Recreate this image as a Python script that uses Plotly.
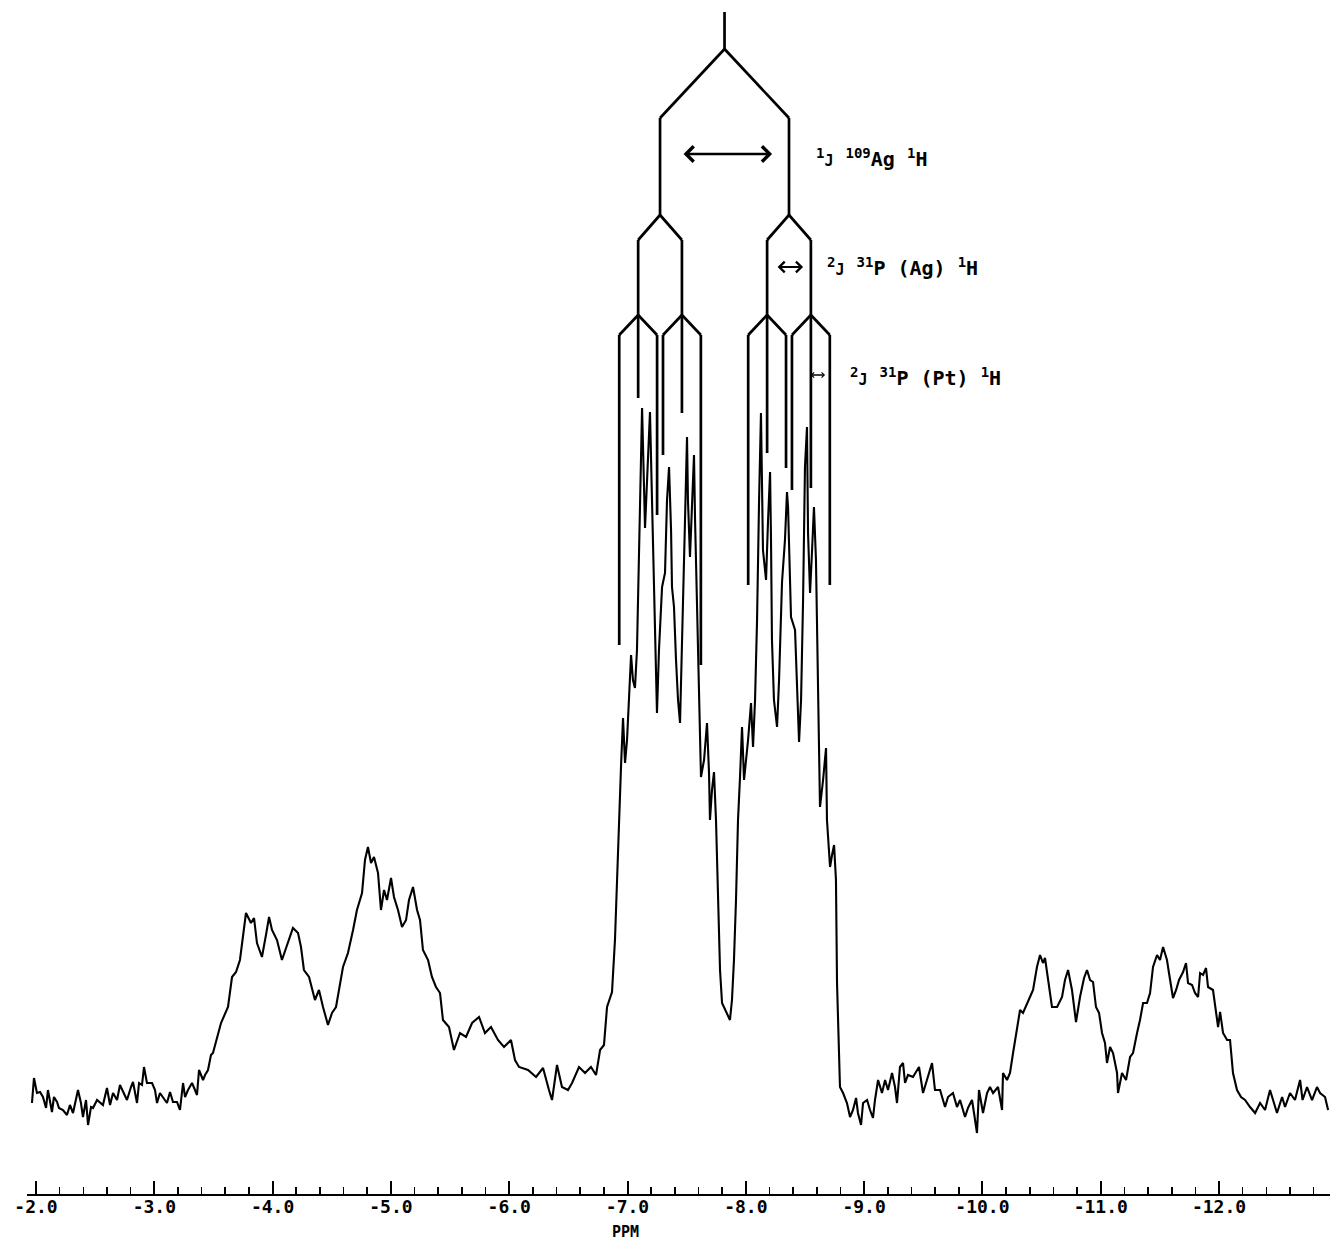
import plotly.graph_objects as go

# ---------------- data (ppm, intensity in arbitrary units) ----------------
spectrum_ppm = [
    -1.966, -1.983, -2.008, -2.034, -2.059, -2.085, -2.101, -2.118, -2.135, -2.152,
    -2.178, -2.194, -2.228, -2.262, -2.287, -2.313, -2.338, -2.355, -2.380, -2.397,
    -2.423, -2.440, -2.465, -2.482, -2.516, -2.541, -2.566, -2.600, -2.626, -2.651,
    -2.685, -2.710, -2.735, -2.769, -2.803, -2.820, -2.854, -2.871, -2.896, -2.913,
    -2.938, -2.981, -3.006, -3.023, -3.048, -3.074, -3.107, -3.133, -3.158, -3.192,
    -3.217, -3.243, -3.260, -3.285, -3.319, -3.344, -3.361, -3.378, -3.412, -3.429,
    -3.454, -3.479,
    -3.496, -3.564, -3.623, -3.657, -3.691, -3.724, -3.750, -3.775, -3.817, -3.843,
    -3.868, -3.910, -3.944, -3.970, -3.995, -4.037, -4.079, -4.113, -4.172, -4.215,
    -4.240, -4.265, -4.308, -4.358, -4.392, -4.426, -4.468, -4.502, -4.536, -4.595,
    -4.637, -4.680, -4.713, -4.756, -4.781, -4.806, -4.832, -4.857, -4.891, -4.916,
    -4.942, -4.967, -5.001, -5.026, -5.060, -5.094, -5.128, -5.153, -5.187, -5.221,
    -5.246, -5.271, -5.314, -5.347, -5.381, -5.415, -5.440, -5.491, -5.533, -5.584,
    -5.635, -5.686, -5.745, -5.795, -5.846, -5.905, -5.956, -6.015, -6.049, -6.083,
    -6.159, -6.227, -6.286, -6.336, -6.362, -6.404, -6.446, -6.497, -6.531, -6.590,
    -6.641, -6.691, -6.734,
    -6.768, -6.801, -6.827, -6.869, -6.894, -6.911, -6.928, -6.945, -6.962, -6.979,
    -6.996, -7.013, -7.030, -7.046, -7.063, -7.080, -7.106, -7.123, -7.148, -7.173,
    -7.190, -7.207, -7.224, -7.241, -7.249, -7.266, -7.283, -7.292, -7.317, -7.334,
    -7.351, -7.368, -7.376, -7.393, -7.410, -7.427, -7.444, -7.461, -7.486, -7.503,
    -7.511, -7.528, -7.545, -7.562, -7.571, -7.587, -7.604, -7.621, -7.647, -7.672,
    -7.689, -7.697, -7.714, -7.731, -7.748, -7.765, -7.782, -7.799, -7.824, -7.841,
    -7.866, -7.883, -7.900, -7.917, -7.934, -7.951, -7.968, -7.985, -8.002, -8.019,
    -8.044, -8.061, -8.078, -8.095, -8.112, -8.128, -8.145, -8.171, -8.188, -8.205,
    -8.213, -8.221, -8.238, -8.264, -8.281, -8.298, -8.306, -8.331, -8.348, -8.357,
    -8.374, -8.382, -8.416, -8.433, -8.450, -8.467, -8.484, -8.500, -8.517, -8.526,
    -8.543, -8.560, -8.576, -8.593, -8.610, -8.627, -8.653, -8.678, -8.686, -8.712,
    -8.729, -8.746, -8.762, -8.771, -8.796,
    -8.822, -8.855, -8.881, -8.906, -8.932, -8.948, -8.974, -8.991, -9.025, -9.050,
    -9.075, -9.092, -9.118, -9.151, -9.177, -9.202, -9.236, -9.261, -9.278, -9.303,
    -9.329, -9.346, -9.371, -9.413, -9.464, -9.498, -9.532, -9.574, -9.599, -9.642,
    -9.684, -9.709, -9.751, -9.785, -9.811, -9.853, -9.878, -9.912, -9.929, -9.954,
    -9.971, -10.005, -10.039, -10.064, -10.090, -10.132, -10.166, -10.174, -10.208, -10.233,
    -10.259, -10.292, -10.318, -10.343, -10.377, -10.402, -10.428, -10.461, -10.487, -10.512,
    -10.529, -10.554, -10.588, -10.631, -10.673, -10.698, -10.724, -10.757, -10.791, -10.825,
    -10.859, -10.884, -10.910, -10.935, -10.960, -10.986, -11.011, -11.036, -11.053, -11.079,
    -11.104, -11.138, -11.146, -11.180, -11.214, -11.248, -11.273, -11.307, -11.332, -11.358,
    -11.391, -11.417, -11.442, -11.476, -11.501, -11.527, -11.560, -11.577, -11.611, -11.637,
    -11.662, -11.696, -11.721, -11.738, -11.772, -11.797, -11.823, -11.840, -11.865, -11.890,
    -11.907, -11.949, -11.966, -11.992, -12.009, -12.034, -12.068, -12.093, -12.118, -12.152,
    -12.186, -12.220, -12.262, -12.305, -12.347, -12.389, -12.431, -12.457, -12.490, -12.533,
    -12.558, -12.600, -12.642, -12.685, -12.706, -12.744, -12.786, -12.828, -12.854, -12.896,
    -12.922,
]

spectrum_int = [
    91, 116, 101, 102, 97, 86, 104, 94, 82, 97,
    92, 86, 84, 79, 89, 81, 97, 104, 91, 77,
    94, 69, 87, 86, 94, 91, 89, 106, 89, 101,
    94, 109, 102, 94, 107, 112, 91, 111, 109, 127,
    111, 111, 104, 91, 101, 96, 91, 102, 92, 92,
    84, 111, 97, 104, 111, 104, 99, 124, 114, 119,
    124, 139,
    141, 171, 187, 217, 222, 234, 261, 281, 271, 276,
    251, 237, 259, 277, 264, 254, 234, 246, 266, 261,
    247, 224, 217, 194, 204, 187, 169, 181, 187, 227,
    241, 264, 284, 301, 334, 347, 331, 337, 321, 284,
    304, 294, 316, 297, 284, 267, 274, 294, 307, 284,
    274, 244, 234, 217, 207, 201, 174, 167, 144, 161,
    157, 171, 177, 161, 167, 154, 147, 154, 134, 127,
    124, 117, 126, 104, 94, 129, 107, 104, 111, 127,
    121, 127, 119,
    144, 149, 187, 202, 254, 314, 381, 427, 476, 431,
    454, 499, 539, 514, 506, 544, 674, 786, 666, 744,
    782, 694, 594, 504, 481, 544, 594, 607, 621, 694,
    727, 664, 607, 587, 534, 494, 471, 544, 674, 757,
    694, 637, 694, 739, 674, 594, 494, 417, 434, 471,
    421, 374, 404, 422, 374, 294, 224, 191, 184, 181,
    174, 194, 234, 294, 374, 417, 467, 414, 434, 454,
    491, 447, 494, 574, 694, 781, 644, 614, 674, 722,
    654, 554, 494, 467, 514, 574, 612, 654, 702, 687,
    614, 577, 564, 504, 452, 494, 594, 727, 767, 661,
    601, 644, 687, 634, 501, 387, 414, 446, 374, 327,
    339, 349, 314, 211, 107,
    101, 91, 77, 84, 96, 81, 69, 91, 94, 84,
    76, 94, 114, 101, 114, 104, 121, 107, 91, 127,
    131, 111, 119, 117, 127, 101, 114, 131, 104, 104,
    87, 97, 101, 87, 94, 77, 86, 94, 81, 61,
    104, 81, 101, 107, 101, 107, 84, 121, 114, 121,
    141, 167, 184, 181, 191, 197, 204, 227, 239, 231,
    236, 214, 187, 187, 197, 214, 224, 204, 172, 197,
    216, 224, 214, 212, 187, 181, 161, 151, 131, 147,
    141, 121, 101, 121, 114, 137, 141, 161, 174, 191,
    191, 201, 227, 239, 234, 247, 234, 221, 196, 204,
    214, 222, 231, 211, 209, 201, 197, 221, 219, 226,
    207, 204, 187, 167, 182, 161, 154, 154, 121, 104,
    97, 94, 87, 81, 91, 84, 104, 94, 81, 97,
    87, 101, 94, 114, 94, 107, 94, 107, 101, 97,
    84,
]

# ---------------- splitting tree (coupling diagram) ----------------
tree_center = -7.82          # ppm
J_AgH = 1.09                 # 1J 109Ag-1H (ppm on the chart)
J_PAg = 0.37                 # 2J 31P(Ag)-1H
J_PPt = 0.16                 # 2J 31P(Pt)-1H (triplet)
tree_levels = [1182, 1145, 1076, 979, 954, 879, 859]   # stem top, split, bend, split, bend, split, bend
tree_line_ends = [549, 796, 679, 739, 781, 529, 609, 741, 726, 704, 706, 609]

# ---------------- arrows and labels ----------------
arrow_from = [-7.461, -8.256, -8.535]
arrow_to = [-8.222, -8.484, -8.670]
arrow_level = [1040, 927, 819]
arrow_size = [1.3, 1.05, 0.65]
arrow_width = [2.3, 2.0, 1.6]

label_text = [
    "<sup>1</sup><span style='font-size:15px'>J</span> <sup>109</sup>Ag <sup>1</sup>H",
    "<sup>2</sup><span style='font-size:15px'>J</span> <sup>31</sup>P (Ag) <sup>1</sup>H",
    "<sup>2</sup><span style='font-size:15px'>J</span> <sup>31</sup>P (Pt) <sup>1</sup>H",
]
label_ppm = [-8.577, -8.670, -8.864]
label_level = [1036, 927, 817]

tick_values = [-2.0, -3.0, -4.0, -5.0, -6.0, -7.0, -8.0, -9.0, -10.0, -11.0, -12.0]
tick_labels = ["-2.0", "-3.0", "-4.0", "-5.0", "-6.0", "-7.0", "-8.0", "-9.0", "-10.0", "-11.0", "-12.0"]
axis_title = "PPM"
axis_title_ppm = -6.98

FONT = "DejaVu Sans Mono"

fig = go.Figure()

# spectrum
fig.add_trace(go.Scatter(
    x=spectrum_ppm, y=spectrum_int, mode="lines",
    line=dict(color="black", width=2.1), hoverinfo="skip", showlegend=False,
))

# build tree segments
tx, ty = [], []
def seg(x0, y0, x1, y1):
    tx.extend([x0, x1, None])
    ty.extend([y0, y1, None])

top, s0, b1, s1, b2, s2, b3 = tree_levels
seg(tree_center, top, tree_center, s0)
lvl1 = [tree_center + J_AgH / 2, tree_center - J_AgH / 2]
k = 0
for c1 in lvl1:
    seg(tree_center, s0, c1, b1)
    seg(c1, b1, c1, s1)
    for c2 in [c1 + J_PAg / 2, c1 - J_PAg / 2]:
        seg(c1, s1, c2, b2)
        seg(c2, b2, c2, s2)
        for off in [J_PPt, 0.0, -J_PPt]:
            c3 = c2 + off
            if off == 0.0:
                seg(c2, s2, c3, tree_line_ends[k])
            else:
                seg(c2, s2, c3, b3)
                seg(c3, b3, c3, tree_line_ends[k])
            k += 1

fig.add_trace(go.Scatter(
    x=tx, y=ty, mode="lines", line=dict(color="black", width=2.7),
    hoverinfo="skip", showlegend=False,
))

annotations = []
for a0, a1, lv, sz, w in zip(arrow_from, arrow_to, arrow_level, arrow_size, arrow_width):
    annotations.append(dict(
        x=a1, y=lv, ax=a0, ay=lv, xref="x", yref="y", axref="x", ayref="y",
        text="", showarrow=True, arrowhead=4, startarrowhead=4, arrowside="end+start",
        arrowsize=sz, startarrowsize=sz, arrowwidth=w, arrowcolor="black",
        standoff=0, startstandoff=0,
    ))
for t, xp, lv in zip(label_text, label_ppm, label_level):
    annotations.append(dict(
        x=xp, y=lv, xref="x", yref="y", text=t, showarrow=False,
        xanchor="left", yanchor="middle",
        font=dict(family=FONT, size=20, color="black", weight="bold"),
    ))
annotations.append(dict(
    x=axis_title_ppm, y=0, xref="x", yref="paper", yshift=-38, text=axis_title, showarrow=False,
    xanchor="center", yanchor="middle",
    font=dict(family=FONT, size=15, color="black", weight="bold"),
))

fig.update_layout(
    width=1330, height=1241,
    margin=dict(l=27, r=0, t=0, b=47, pad=0),
    paper_bgcolor="white", plot_bgcolor="white",
    showlegend=False,
    annotations=annotations,
    xaxis=dict(
        range=[-1.924, -12.938], showgrid=False, zeroline=False,
        showline=True, linecolor="black", linewidth=2,
        tickmode="array", tickvals=tick_values, ticktext=tick_labels,
        ticks="inside", ticklen=13, tickwidth=2, tickcolor="black",
        minor=dict(dtick=0.2, tick0=-2.0, ticks="inside", ticklen=7, tickwidth=1.6, tickcolor="black"),
        tickfont=dict(family=FONT, size=18, color="black", weight="bold"),
        ticklabelstandoff=-5,
        fixedrange=True,
    ),
    yaxis=dict(range=[0, 1194], visible=False, fixedrange=True),
)

fig.write_html(
    "out.html",
    config={"displayModeBar": False, "staticPlot": True},
    post_script="document.body.style.margin='0';document.body.style.overflow='hidden';",
)
